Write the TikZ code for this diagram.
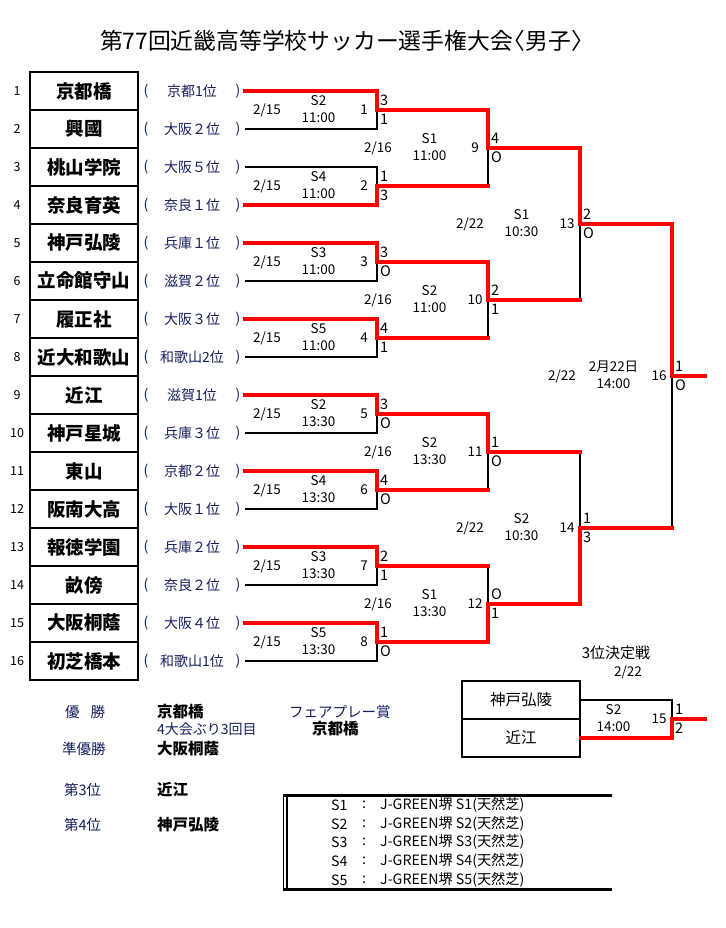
\documentclass[tikz,border=0pt]{standalone}
\usepackage{fontspec}
\setmainfont{Noto Sans CJK JP}
\definecolor{navy}{RGB}{22,32,92}
\definecolor{winred}{RGB}{255,0,0}
\newcommand\fsz[1]{\fontsize{#1}{#1}\selectfont}
\newcommand\mlab[6]{%
  \node[info,xshift=-58.5pt,yshift=9pt] (v#1) at (#1) {#2};
  \node[info,xshift=-58.5pt,yshift=-8pt] (h#1) at (#1) {#3};
  \node[info,xshift=-13pt] (k#1) at (#1) {#4};
  \node[score,xshift=3pt,yshift=9.5pt] (sa#1) at (#1) {#5};
  \node[score,xshift=3pt,yshift=-9.5pt] (sb#1) at (#1) {#6};
}
\newcommand\mdate[2]{\node[info,xshift=-110pt] (d#1) at (#1) {#2};}
\begin{document}
\begin{tikzpicture}[x=1pt,y=-1pt,
  namebox/.style={draw,line width=2pt,minimum width=108pt,minimum height=38pt,inner sep=0pt,font=\fsz{18.5}\bfseries},
  thirdbox/.style={draw,line width=2pt,minimum width=118pt,minimum height=38pt,inner sep=0pt,font=\fsz{15.5}},
  rownum/.style={font=\fsz{12.5},inner sep=0pt},
  pref/.style={font=\fsz{14},text=navy,inner sep=0pt},
  info/.style={font=\fsz{13.5},inner sep=0pt},
  score/.style={font=\fsz{14.5},inner sep=0pt,anchor=west},
  lbl/.style={font=\fsz{14.5},text=navy,inner sep=0pt,anchor=west},
  res/.style={font=\fsz{15.5}\bfseries,inner sep=0pt,anchor=west},
  leg/.style={font=\fsz{14.2},inner sep=0pt,anchor=west},
  bline/.style={line width=2pt,black},
  rline/.style={line width=4pt,winred,line cap=rect},
]
\useasboundingbox (0,0) rectangle (725,928);
\fill[white] (0,0) rectangle (725,928);

\node[font=\fsz{22.8},inner sep=0pt] (title) at (347,41) {第77回近畿高等学校サッカー選手権大会\kern-0.45em〈男子〉};

% teams
\foreach \i/\nm/\pr in {1/京都橋/京都1位,2/興國/大阪２位,3/桃山学院/大阪５位,4/奈良育英/奈良１位,
  5/神戸弘陵/兵庫１位,6/立命館守山/滋賀２位,7/履正社/大阪３位,8/近大和歌山/和歌山2位,
  9/近江/滋賀1位,10/神戸星城/兵庫３位,11/東山/京都２位,12/阪南大高/大阪１位,
  13/報徳学園/兵庫２位,14/畝傍/奈良２位,15/大阪桐蔭/大阪４位,16/初芝橋本/和歌山1位}{
  \pgfmathsetmacro\yy{91+38*(\i-1)}
  \node[namebox] (n\i) at (84,\yy) {\nm};
  \node[rownum] (r\i) at (17,\yy) {\i};
  \node[pref] (lp\i) at (146,\yy) {(};
  \node[pref] (p\i) at (192,\yy) {\pr};
  \node[pref] (rp\i) at (238,\yy) {)};
  \coordinate (t\i) at (245,\yy);
}

% match points
\foreach \k in {1,...,8} {\coordinate (m\k) at (377,{110+76*(\k-1)});}
\foreach \k in {9,...,12} {\coordinate (m\k) at (488,{148+152*(\k-9)});}
\coordinate (m13) at (580,224);
\coordinate (m14) at (580,528);
\coordinate (m16) at (672,376);
\coordinate (m15) at (672,719);
\coordinate (champ) at (705,376);
\coordinate (third) at (705,719);

% third place boxes
\node[thirdbox] (q1) at (521,700) {神戸弘陵};
\node[thirdbox] (q2) at (521,738) {近江};

% black bracket
\foreach \a/\b/\m in {t1/t2/m1,t3/t4/m2,t5/t6/m3,t7/t8/m4,t9/t10/m5,t11/t12/m6,t13/t14/m7,t15/t16/m8,
  m1/m2/m9,m3/m4/m10,m5/m6/m11,m7/m8/m12,m9/m10/m13,m11/m12/m14,m13/m14/m16}
  {\draw[bline] (\a) -| (\m) (\b) -| (\m);}
\draw[bline] (q1.east) -| (m15) (q2.east) -| (m15);

% red winners
\foreach \w/\m in {t1/m1,t4/m2,t5/m3,t7/m4,t9/m5,t11/m6,t13/m7,t15/m8,
  m1/m9,m3/m10,m5/m11,m8/m12,m9/m13,m12/m14,m13/m16}
  {\draw[rline] (\w) -| (\m);}
\foreach \l/\m in {m2/m9,m4/m10,m6/m11,m7/m12,m10/m13,m11/m14,m14/m16}
  {\draw[rline] (\l) -- (\l -| \m);}
\draw[rline] (m16) -- (champ);
\draw[rline] (q2.east) -| (m15);
\draw[rline] (m15) -- (third);

% labels round 1
\mdate{m1}{2/15}\mlab{m1}{S2}{11:00}{1}{3}{1}
\mdate{m2}{2/15}\mlab{m2}{S4}{11:00}{2}{1}{3}
\mdate{m3}{2/15}\mlab{m3}{S3}{11:00}{3}{3}{O}
\mdate{m4}{2/15}\mlab{m4}{S5}{11:00}{4}{4}{1}
\mdate{m5}{2/15}\mlab{m5}{S2}{13:30}{5}{3}{O}
\mdate{m6}{2/15}\mlab{m6}{S4}{13:30}{6}{4}{O}
\mdate{m7}{2/15}\mlab{m7}{S3}{13:30}{7}{2}{1}
\mdate{m8}{2/15}\mlab{m8}{S5}{13:30}{8}{1}{O}
% quarter finals
\mdate{m9}{2/16}\mlab{m9}{S1}{11:00}{9}{4}{O}
\mdate{m10}{2/16}\mlab{m10}{S2}{11:00}{10}{2}{1}
\mdate{m11}{2/16}\mlab{m11}{S2}{13:30}{11}{1}{O}
\mdate{m12}{2/16}\mlab{m12}{S1}{13:30}{12}{O}{1}
% semi finals
\mdate{m13}{2/22}\mlab{m13}{S1}{10:30}{13}{2}{O}
\mdate{m14}{2/22}\mlab{m14}{S2}{10:30}{14}{1}{3}
% final
\mdate{m16}{2/22}\mlab{m16}{2月22日}{14:00}{16}{1}{O}
% third place
\mlab{m15}{S2}{14:00}{15}{1}{2}
\node[font=\fsz{15},inner sep=0pt] (tp) at (616,653) {3位決定戦};
\node[info] (tpd) at (628,672) {2/22};

% results
\node[lbl] (l1) at (65,712) {優\hspace{11pt}勝};
\node[lbl] (l2) at (62,749) {準優勝};
\node[lbl] (l3) at (64,790) {第3位};
\node[lbl] (l4) at (64,825) {第4位};
\node[res] (w1) at (157,712) {京都橋};
\node[font=\fsz{14},text=navy,inner sep=0pt,anchor=west] (w1b) at (157,729) {4大会ぶり3回目};
\node[res] (w2) at (157,749) {大阪桐蔭};
\node[res] (w3) at (157,790) {近江};
\node[res] (w4) at (157,825) {神戸弘陵};
\node[lbl] (fp) at (289,712) {フェアプレー賞};
\node[res] (fpw) at (312,729) {京都橋};

% venue legend
\draw[line width=3pt] (282.5,795) -- (612,795);
\draw[line width=3pt] (282.5,889) -- (612,889);
\draw[line width=1.2pt] (283.5,795) -- (283.5,889);
\draw[line width=1.2pt] (287,795) -- (287,889);
\foreach \s/\yy in {1/805,2/824,3/842,4/861,5/880}{
  \node[leg] (ls\s) at (331,\yy) {S\s};
  \node[leg] (lc\s) at (362,\yy) {:};
  \node[leg] (lv\s) at (380,\yy) {J-GREEN堺 S\s(天然芝)};
}
\end{tikzpicture}
\end{document}
